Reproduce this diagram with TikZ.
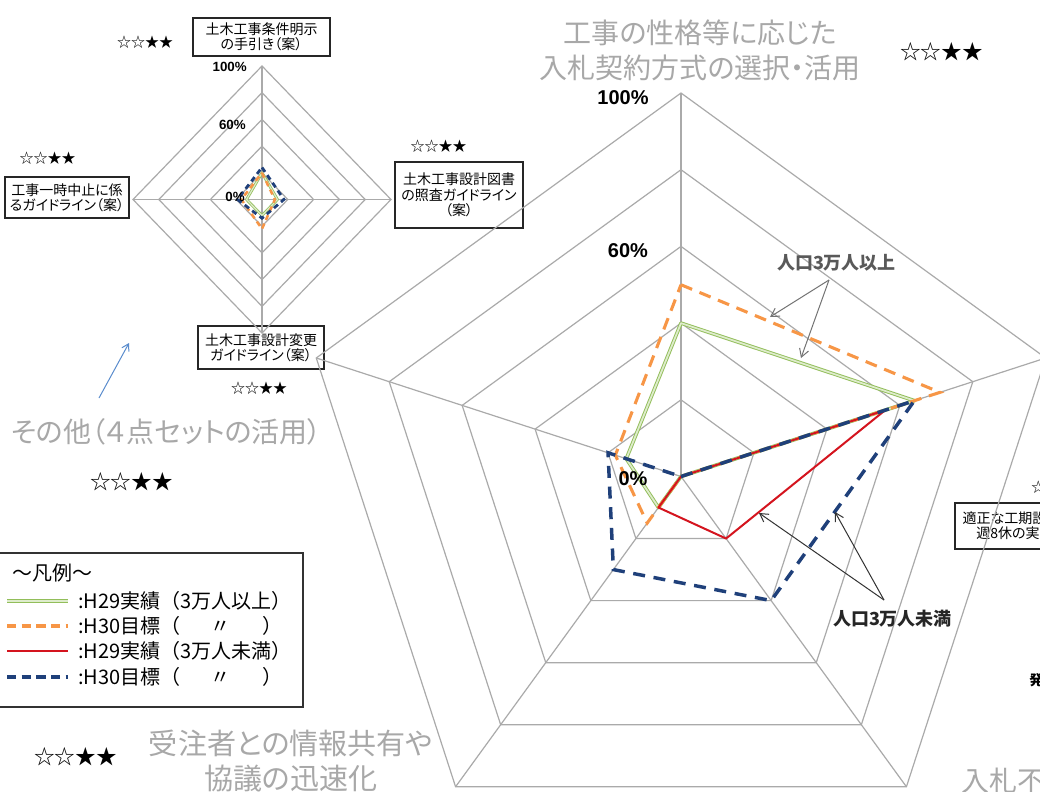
\documentclass[tikz,border=0pt]{standalone}
\usepackage{fontspec}
\setmainfont{Noto Sans CJK JP}
\newfontfamily\jpp[RawFeature=+palt]{Noto Sans CJK JP}
\newfontfamily\lat{Liberation Sans}
\usetikzlibrary{arrows.meta,calc}
\definecolor{gridc}{RGB}{170,170,170}
\definecolor{greyt}{RGB}{168,168,168}
\definecolor{grn}{RGB}{146,190,90}
\definecolor{grnin}{RGB}{222,236,204}
\definecolor{org}{RGB}{247,150,70}
\definecolor{redc}{RGB}{212,20,30}
\definecolor{blu}{RGB}{31,64,122}
\definecolor{arrblue}{RGB}{90,140,205}
\newcommand\bigRad[3]{\coordinate (#1) at ({681+383.5*(#3)*cos(#2)},{476.5-383.5*(#3)*sin(#2)});}
\begin{document}
\begin{tikzpicture}[x=0.75pt,y=-0.75pt,
  gridl/.style={draw=gridc,line width=0.9pt},
  grs/.style={draw=grn,double=grnin,double distance=1.3pt,line width=0.7pt,line join=round},
  ors/.style={draw=org,line width=2.3pt,dash pattern=on 9pt off 6pt},
  rds/.style={draw=redc,line width=1.5pt,line join=round},
  bls/.style={draw=blu,line width=2.6pt,dash pattern=on 9pt off 6.5pt},
  sgrs/.style={draw=grn,double=grnin,double distance=0.9pt,line width=0.6pt,line join=round},
  sors/.style={draw=org,line width=1.9pt,dash pattern=on 4pt off 3pt},
  sbls/.style={draw=blu,line width=2.1pt,dash pattern=on 4pt off 3pt},
  lbox/.style={draw=black!85,line width=0.9pt,fill=white,align=center,inner sep=0pt,font=\jpp\fontsize{10.5}{11.5}\selectfont},
  stars/.style={font=\fontsize{10.5}{12}\selectfont,inner sep=0pt},
  bigstars/.style={font=\fontsize{15.5}{18}\selectfont,inner sep=0pt},
  gtxt/.style={text=greyt,align=center,inner sep=0pt,font=\jpp\fontsize{21}{26.25}\selectfont},
  pct/.style={font=\lat\bfseries\fontsize{15}{18}\selectfont,inner sep=0pt},
  spct/.style={font=\lat\bfseries\fontsize{10}{12}\selectfont,inner sep=0pt},
  ann/.style={font=\bfseries\fontsize{13.5}{16}\selectfont,inner sep=0pt},
  legt/.style={font=\fontsize{15}{17}\selectfont,inner sep=0pt,anchor=west},
  arr/.style={line width=0.75pt,-{Straight Barb[length=6pt,width=7pt]}},
]
\useasboundingbox (0,0) rectangle (1040,792);
\clip (0,0) rectangle (1040,792);
\fill[white] (0,0) rectangle (1040,792);

% ---------- label boxes ----------
\node[lbox,minimum width=137*0.75pt,minimum height=38*0.75pt] (bx1) at (261.5,37) {土木工事条件明示\\の手引き（案）};
\node[lbox,minimum width=124*0.75pt,minimum height=41*0.75pt] (bx2) at (67,197.5) {工事一時中止に係\\るガイドライン（案）};
\node[lbox,minimum width=128*0.75pt,minimum height=66*0.75pt] (bx3) at (459,195) {土木工事設計図書\\の照査ガイドライン\\（案）};
\node[lbox,minimum width=126*0.75pt,minimum height=43*0.75pt] (bx4) at (261,347.5) {土木工事設計変更\\ガイドライン（案）};
\node[lbox,minimum width=120*0.75pt,minimum height=46*0.75pt] (bx5) at (1015,526) {適正な工期設定・\\週8休の実施};

% ---------- small radar ----------
\coordinate (S) at (262,199.5);
\foreach \k in {1,...,5}
  \draw[gridl] (262,{199.5-26.7*\k}) -- ({262+25.8*\k},199.5) -- (262,{199.5+26.7*\k}) -- ({262-25.8*\k},199.5) -- cycle;
\coordinate (st) at (262,66); \coordinate (sb) at (262,333);
\coordinate (sl) at (133,199.5); \coordinate (sr) at (391,199.5);
\draw[gridl] (st) -- (sb) (sl) -- (sr);
\draw[sgrs] (262,{199.5-133.5*0.20}) -- ({262+129*0.12},199.5) -- (262,{199.5+133.5*0.12}) -- ({262-129*0.12},199.5) -- cycle;
\draw[sors] (262,{199.5-133.5*0.20}) -- ({262+129*0.10},199.5) -- (262,{199.5+133.5*0.22}) -- ({262-129*0.16},199.5) -- cycle;
\draw[sbls] (262,{199.5-133.5*0.24}) -- ({262+129*0.17},199.5) -- (262,{199.5+133.5*0.14}) -- ({262-129*0.19},199.5) -- cycle;
\node[spct,anchor=east] (s100) at (247,67) {100\%};
\node[spct,anchor=east] (s60) at (246,125) {60\%};
\node[spct,anchor=east] (s0) at (245,197) {0\%};

% ---------- big radar grid ----------
\coordinate (C) at (681,476.5);
\foreach \k in {1,...,5}{
  \pgfmathsetmacro\rr{76.7*\k}
  \draw[gridl] plot[samples at={90,18,-54,-126,162}] ({681+\rr*cos(\x)},{476.5-\rr*sin(\x)}) -- cycle;
}
\foreach \a/\n in {90/v0,18/v1,-54/v2,-126/v3,162/v4}{
  \bigRad{\n}{\a}{1}
  \draw[gridl] (C) -- (\n);
}

% ---------- big radar series ----------
\bigRad{g0}{90}{0.40}\bigRad{g1}{18}{0.64}\bigRad{g2}{-54}{0}\bigRad{g3}{-126}{0.10}\bigRad{g4}{162}{0.15}
\bigRad{o0}{90}{0.50}\bigRad{o1}{18}{0.71}\bigRad{o2}{-54}{0}\bigRad{o3}{-126}{0.15}\bigRad{o4}{162}{0.18}
\bigRad{r0}{90}{0}\bigRad{r1}{18}{0.56}\bigRad{r2}{-54}{0.20}\bigRad{r3}{-126}{0.10}\bigRad{r4}{162}{0}
\bigRad{b0}{90}{0}\bigRad{b1}{18}{0.64}\bigRad{b2}{-54}{0.40}\bigRad{b3}{-126}{0.30}\bigRad{b4}{162}{0.20}
\draw[grs] (g0) -- (g1) -- (g2) -- (g3) -- (g4) -- cycle;
\draw[ors] (o0) -- (o1) -- (o2) -- (o3) -- (o4) -- cycle;
\draw[rds] (r0) -- (r1) -- (r2) -- (r3) -- (r4) -- cycle;
\draw[bls] (b0) -- (b1) -- (b2) -- (b3) -- (b4) -- cycle;

\node[pct] (p100) at (623,98) {100\%};
\node[pct] (p60) at (628,251) {60\%};
\node[pct] (p0) at (633,479) {0\%};

% ---------- annotations ----------
\node[ann,text=black!65] (up) at (836.5,263) {人口3万人以上};
\coordinate (upt) at (829,280);
\coordinate (upa) at (770,317);
\coordinate (upb) at (801,358);
\draw[arr,draw=black!55] (upt) -- (upa);
\draw[arr,draw=black!55] (upt) -- (upb);
\node[ann,text=black!85] (dn) at (892.5,619) {人口3万人未満};
\coordinate (dnt) at (884,600);
\coordinate (dna) at (759,513);
\coordinate (dnb) at (835,512);
\draw[arr,draw=black!80] (dnt) -- (dna);
\draw[arr,draw=black!80] (dnt) -- (dnb);

% ---------- grey category titles ----------
\node[gtxt] (t0) at (700,50) {工事の性格等に応じた\\入札契約方式の選択・活用};
\node[gtxt,font=\jpp\fontsize{21.8}{26.25}\selectfont] (t3) at (291,761) {受注者との情報共有や\\協議の迅速化};
\node[gtxt] (t4) at (166.5,432) {その他（４点セットの活用）};
\node[gtxt,anchor=west] (t2) at (961,781) {入札不};
\node[font=\bfseries\fontsize{10.5}{12}\selectfont,inner sep=0pt,anchor=west] (t1) at (1029,680) {発};

% ---------- stars ----------
\node[bigstars] (sa) at (941.5,52) {☆☆★★};
\node[bigstars] (sb2) at (131.5,482) {☆☆★★};
\node[bigstars] (sc) at (75.5,757) {☆☆★★};
\node[stars] (sd) at (145,42) {☆☆★★};
\node[stars] (se) at (47.5,158) {☆☆★★};
\node[stars] (sf) at (438.5,146) {☆☆★★};
\node[stars] (sg) at (259,388) {☆☆★★};
\node[stars,anchor=west] (sh) at (1031,487) {☆☆★★};

% ---------- blue arrow ----------
\coordinate (bat) at (99,398);
\coordinate (bah) at (129,343);
\draw[draw=arrblue,line width=0.75pt,-{Straight Barb[length=5pt,width=6pt]}] (bat) -- (bah);

% ---------- legend ----------
\node[draw=black!80,line width=0.9pt,fill=white,minimum width=306*0.75pt,minimum height=154*0.75pt,inner sep=0pt] (leg) at (150,630) {};
\node[legt] (lt) at (12,573) {〜凡例〜};
\coordinate (l1a) at (7,601); \coordinate (l1b) at (68,601);
\coordinate (l2a) at (7,626); \coordinate (l2b) at (68,626);
\coordinate (l3a) at (7,651); \coordinate (l3b) at (68,651);
\coordinate (l4a) at (7,677); \coordinate (l4b) at (68,677);
\draw[grs] (l1a) -- (l1b);
\draw[draw=org,line width=2.3pt,dash pattern=on 7pt off 4pt] (l2a) -- (l2b);
\draw[rds] (l3a) -- (l3b);
\draw[draw=blu,line width=2.6pt,dash pattern=on 7pt off 4pt] (l4a) -- (l4b);
\node[legt] (lg1) at (78,601) {:H29実績（3万人以上）};
\node[legt] (lg2) at (78,626) {:H30目標（\hspace{1.5em}〃\hspace{1.6em}）};
\node[legt] (lg3) at (78,651) {:H29実績（3万人未満）};
\node[legt] (lg4) at (78,677) {:H30目標（\hspace{1.5em}〃\hspace{1.6em}）};
\end{tikzpicture}
\end{document}
